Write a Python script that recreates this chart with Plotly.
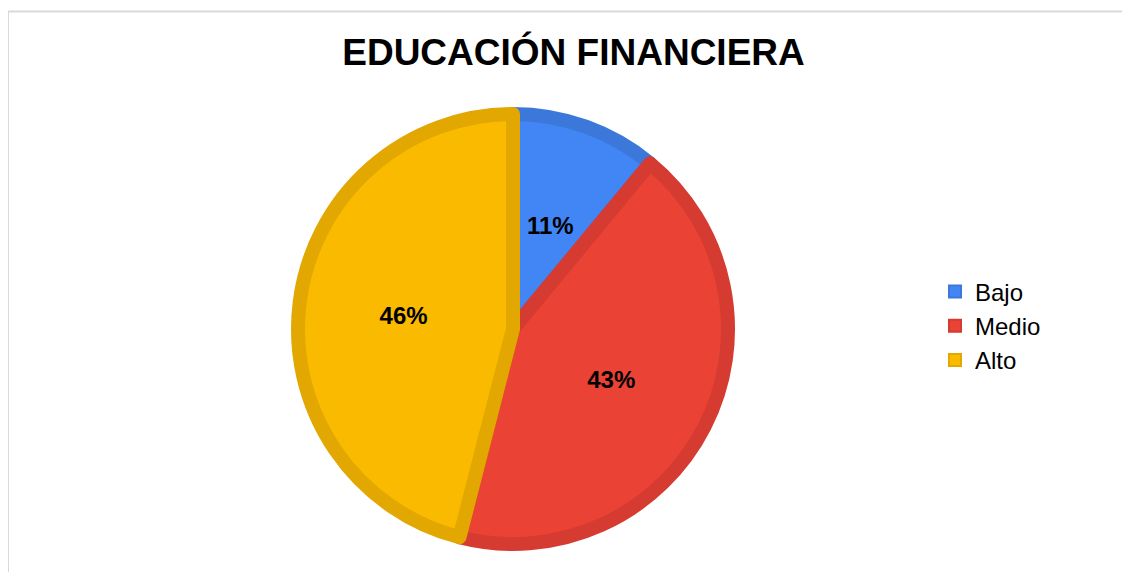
import plotly.graph_objects as go

W, H = 1130, 572

categories = ["Bajo", "Medio", "Alto"]
values = [11, 43, 46]
fill_colors = ["#4285F4", "#EA4335", "#F9BA00"]
border_colors = ["#3B78DA", "#D53B30", "#E2A700"]
title_text = "EDUCACIÓN FINANCIERA"

# geometry in figure pixels (page has an 8px body offset)
cx, cy, R = 505, 321, 215
RT = 147  # radius of the text-carrying ring (labels end up at about half the pie radius)

FONT = "Liberation Sans, Arial, sans-serif"


def dom(r):
    return dict(x=[(cx - r) / W, (cx + r) / W], y=[1 - (cy + r) / H, 1 - (cy - r) / H])


pie = go.Pie(
    labels=categories,
    values=values,
    sort=False,
    direction="clockwise",
    rotation=0,
    marker=dict(colors=fill_colors, line=dict(color=border_colors, width=14)),
    textinfo="none",
    domain=dom(R),
    hoverinfo="label+percent",
)

labels_ring = go.Pie(
    labels=categories,
    values=values,
    sort=False,
    direction="clockwise",
    rotation=0,
    hole=0.5,
    marker=dict(colors=["rgba(0,0,0,0)"] * len(values), line=dict(width=0)),
    texttemplate="%{percent:.0%}",
    textposition="inside",
    insidetextorientation="horizontal",
    textfont=dict(family=FONT, size=24, color="#000000", weight="bold"),
    domain=dom(RT),
    showlegend=False,
    hoverinfo="skip",
)

fig = go.Figure([pie, labels_ring])

fig.update_layout(
    width=W, height=H,
    margin=dict(l=0, r=0, t=0, b=0),
    paper_bgcolor="white",
    title=dict(text=title_text, x=565.5 / W, xanchor="center", y=1 - 44 / H, yanchor="middle",
               font=dict(family=FONT, size=37, color="#000000", weight="bold")),
    legend=dict(x=927 / W, xanchor="left", y=1 - 318 / H, yanchor="middle",
                font=dict(family=FONT, size=24, color="#000000"),
                itemsizing="constant"),
    shapes=[dict(type="rect", xref="paper", yref="paper",
                 x0=0, x1=1.05, y0=-0.05, y1=1 - 3.5 / H,
                 line=dict(color="#D9D9D9", width=2), fillcolor="rgba(0,0,0,0)", layer="below")],
)

fig.write_html("out.html")
